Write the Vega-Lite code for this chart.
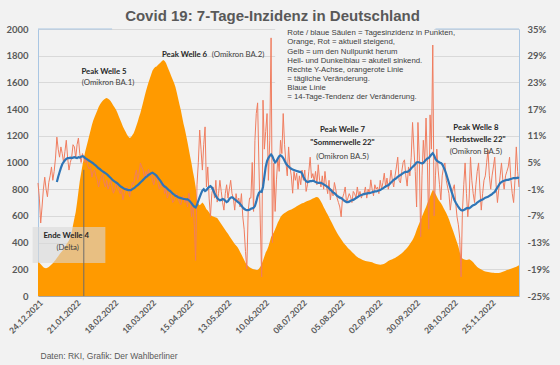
{
"$schema":"https://vega.github.io/schema/vega-lite/v6.json",
"autosize":"none",
"width":481,"height":267,
"padding":{"left":38,"top":29,"right":41,"bottom":69},
"background":"#f2f2f2",
"config":{"view":{"stroke":null}},
"title":{"text":"Covid 19: 7-Tage-Inzidenz in Deutschland","font":"Liberation Sans","fontSize":15,"fontWeight":"bold","color":"#595959","anchor":"middle","frame":"group","offset":0,"dx":-6},
"datasets":{
"main":[
{"d":"2021-12-24","i":260,"r":0.4},{"d":"2021-12-25","i":250,"r":-3},{"d":"2021-12-26","i":238,"r":-8.6},{"d":"2021-12-27","i":226,"r":-5},{"d":"2021-12-28","i":216,"r":-1},{"d":"2021-12-29","i":210,"r":1.7},{"d":"2021-12-30","i":208,"r":-1},{"d":"2021-12-31","i":212,"r":-2.7},
{"d":"2022-01-01","i":218,"r":0.5},{"d":"2022-01-02","i":226,"r":2},{"d":"2022-01-03","i":236,"r":4},{"d":"2022-01-04","i":246,"r":1},{"d":"2022-01-05","i":258,"r":3},{"d":"2022-01-06","i":270,"r":6},{"d":"2022-01-07","i":284,"r":10.7,"b":0.6},{"d":"2022-01-08","i":298,"r":8,"b":1.8},{"d":"2022-01-09","i":312,"r":6.2,"b":2.8},{"d":"2022-01-10","i":326,"r":8.5,"b":3.8},{"d":"2022-01-11","i":338,"r":7,"b":4.6},{"d":"2022-01-12","i":350,"r":5,"b":5.1},{"d":"2022-01-13","i":365,"r":7.5,"b":5.5},{"d":"2022-01-14","i":385,"r":10,"b":5.8},{"d":"2022-01-15","i":400,"r":6,"b":6.0},{"d":"2022-01-16","i":415,"r":3.3,"b":6.0},{"d":"2022-01-17","i":440,"r":5,"b":6.1},{"d":"2022-01-18","i":480,"r":6.2,"b":6.0},{"d":"2022-01-19","i":530,"r":9,"b":6.1},{"d":"2022-01-20","i":580,"r":8.5,"b":6.2},{"d":"2022-01-21","i":630,"r":6,"b":6.1},{"d":"2022-01-22","i":700,"r":9,"b":6.0},{"d":"2022-01-23","i":780,"r":10.5,"b":6.2},{"d":"2022-01-24","i":860,"r":7,"b":6.1},{"d":"2022-01-25","i":920,"r":5,"b":6.3},{"d":"2022-01-26","i":980,"r":7,"b":6.4},{"d":"2022-01-27","i":1030,"r":6,"b":6.3},{"d":"2022-01-28","i":1080,"r":5,"b":6.0},{"d":"2022-01-29","i":1120,"r":6,"b":5.8},{"d":"2022-01-30","i":1160,"r":4.2,"b":5.6},{"d":"2022-01-31","i":1200,"r":3.5,"b":5.4},
{"d":"2022-02-01","i":1240,"r":4,"b":5.2},{"d":"2022-02-02","i":1280,"r":1.7,"b":5.0},{"d":"2022-02-03","i":1315,"r":3,"b":4.8},{"d":"2022-02-04","i":1340,"r":3.3,"b":4.5},{"d":"2022-02-05","i":1365,"r":2,"b":4.3},{"d":"2022-02-06","i":1390,"r":1,"b":4.0},{"d":"2022-02-07","i":1415,"r":-0.5,"b":3.7},{"d":"2022-02-08","i":1435,"r":1,"b":3.5},{"d":"2022-02-09","i":1450,"r":1.7,"b":3.2},{"d":"2022-02-10","i":1462,"r":2.5,"b":3.0},{"d":"2022-02-11","i":1472,"r":0.5,"b":2.8},{"d":"2022-02-12","i":1480,"r":-0.5,"b":2.6},{"d":"2022-02-13","i":1483,"r":1,"b":2.4},{"d":"2022-02-14","i":1478,"r":-1,"b":2.1},{"d":"2022-02-15","i":1470,"r":0,"b":1.8},{"d":"2022-02-16","i":1458,"r":1,"b":1.5},{"d":"2022-02-17","i":1442,"r":-0.5,"b":1.2},{"d":"2022-02-18","i":1425,"r":-1.9,"b":0.9},{"d":"2022-02-19","i":1410,"r":-1,"b":0.7},{"d":"2022-02-20","i":1393,"r":0.5,"b":0.5},{"d":"2022-02-21","i":1370,"r":-0.5,"b":0.3},{"d":"2022-02-22","i":1345,"r":-1.2,"b":0.0},{"d":"2022-02-23","i":1320,"r":-2,"b":-0.3},{"d":"2022-02-24","i":1295,"r":-1,"b":-0.5},{"d":"2022-02-25","i":1270,"r":-3.4,"b":-0.7},{"d":"2022-02-26","i":1250,"r":-2,"b":-0.9},{"d":"2022-02-27","i":1230,"r":-1,"b":-1.0},{"d":"2022-02-28","i":1210,"r":-0.5,"b":-1.1},
{"d":"2022-03-01","i":1195,"r":-1.5,"b":-1.2},{"d":"2022-03-02","i":1183,"r":-2.7,"b":-1.2},{"d":"2022-03-03","i":1190,"r":-1,"b":-1.2},{"d":"2022-03-04","i":1205,"r":0.5,"b":-1.0},{"d":"2022-03-05","i":1220,"r":0,"b":-0.8},{"d":"2022-03-06","i":1245,"r":2,"b":-0.6},{"d":"2022-03-07","i":1275,"r":3.3,"b":-0.3},{"d":"2022-03-08","i":1305,"r":1,"b":-0.1},{"d":"2022-03-09","i":1340,"r":2.5,"b":0.2},{"d":"2022-03-10","i":1370,"r":4.9,"b":0.5},{"d":"2022-03-11","i":1410,"r":4,"b":0.8},{"d":"2022-03-12","i":1450,"r":3.3,"b":1.1},{"d":"2022-03-13","i":1490,"r":1.5,"b":1.4},{"d":"2022-03-14","i":1530,"r":3,"b":1.7},{"d":"2022-03-15","i":1566,"r":1.7,"b":1.9},{"d":"2022-03-16","i":1600,"r":3.5,"b":2.2},{"d":"2022-03-17","i":1630,"r":2,"b":2.4},{"d":"2022-03-18","i":1660,"r":2.6,"b":2.6},{"d":"2022-03-19","i":1690,"r":1,"b":2.7},{"d":"2022-03-20","i":1705,"r":0,"b":2.5},{"d":"2022-03-21","i":1715,"r":2,"b":2.3},{"d":"2022-03-22","i":1720,"r":1.7,"b":2.0},{"d":"2022-03-23","i":1730,"r":0.5,"b":1.6},{"d":"2022-03-24","i":1740,"r":-1,"b":1.2},{"d":"2022-03-25","i":1750,"r":0,"b":0.8},{"d":"2022-03-26","i":1760,"r":-0.5,"b":0.3},{"d":"2022-03-27","i":1768,"r":0.5,"b":-0.1},{"d":"2022-03-28","i":1760,"r":-2,"b":-0.4},{"d":"2022-03-29","i":1745,"r":-1,"b":-0.6},{"d":"2022-03-30","i":1720,"r":-3,"b":-0.9},{"d":"2022-03-31","i":1695,"r":-2,"b":-1.2},
{"d":"2022-04-01","i":1670,"r":-1,"b":-1.4},{"d":"2022-04-02","i":1645,"r":-2.5,"b":-1.7},{"d":"2022-04-03","i":1620,"r":-4,"b":-2.0},{"d":"2022-04-04","i":1595,"r":-3.5,"b":-2.2},{"d":"2022-04-05","i":1566,"r":-2.5,"b":-2.5},{"d":"2022-04-06","i":1525,"r":-2,"b":-2.6},{"d":"2022-04-07","i":1480,"r":-3,"b":-2.8},{"d":"2022-04-08","i":1435,"r":-4,"b":-2.9},{"d":"2022-04-09","i":1393,"r":-4.5,"b":-3.0},{"d":"2022-04-10","i":1340,"r":-3,"b":-3.1},{"d":"2022-04-11","i":1290,"r":-2.5,"b":-3.2},{"d":"2022-04-12","i":1250,"r":-4,"b":-3.2},{"d":"2022-04-13","i":1200,"r":-3,"b":-3.3},{"d":"2022-04-14","i":1150,"r":-5,"b":-3.3},{"d":"2022-04-15","i":1095,"r":-1.9,"b":-3.5},{"d":"2022-04-16","i":1041,"r":-3.5,"b":-3.8},{"d":"2022-04-17","i":990,"r":-7.2,"b":-4.2},{"d":"2022-04-18","i":930,"r":-4,"b":-4.6},{"d":"2022-04-19","i":880,"r":-9,"b":-4.9},{"d":"2022-04-20","i":816,"r":-17,"b":-5.1},{"d":"2022-04-21","i":720,"r":0,"b":-4.5},{"d":"2022-04-22","i":690,"r":5,"b":-3.6},{"d":"2022-04-23","i":680,"r":12.3,"b":-2.8},{"d":"2022-04-24","i":690,"r":8,"b":-2.0},{"d":"2022-04-25","i":700,"r":3.3,"b":-1.3},{"d":"2022-04-26","i":690,"r":9,"b":-1.0},{"d":"2022-04-27","i":670,"r":13,"b":-1.4},{"d":"2022-04-28","i":650,"r":-0.5,"b":-1.2},{"d":"2022-04-29","i":640,"r":4,"b":-0.8},{"d":"2022-04-30","i":625,"r":-3,"b":-0.5},
{"d":"2022-05-01","i":610,"r":-7.2,"b":-0.3},{"d":"2022-05-02","i":600,"r":-2,"b":-0.6},{"d":"2022-05-03","i":595,"r":-0.5,"b":-1.2},{"d":"2022-05-04","i":592,"r":-3,"b":-1.9},{"d":"2022-05-05","i":588,"r":1,"b":-2.5},{"d":"2022-05-06","i":584,"r":-3.9,"b":-3.0},{"d":"2022-05-07","i":570,"r":-2,"b":-3.3},{"d":"2022-05-08","i":555,"r":1,"b":-3.5},{"d":"2022-05-09","i":540,"r":-1.5,"b":-3.4},{"d":"2022-05-10","i":525,"r":-4,"b":-3.2},{"d":"2022-05-11","i":510,"r":-5.7,"b":-3.3},{"d":"2022-05-12","i":495,"r":-2,"b":-3.6},{"d":"2022-05-13","i":480,"r":0,"b":-3.9},{"d":"2022-05-14","i":466,"r":-3,"b":-3.7},{"d":"2022-05-15","i":450,"r":-1,"b":-3.2},{"d":"2022-05-16","i":435,"r":1,"b":-2.9},{"d":"2022-05-17","i":420,"r":-2,"b":-2.8},{"d":"2022-05-18","i":405,"r":-3,"b":-3.0},{"d":"2022-05-19","i":390,"r":-5.7,"b":-3.3},{"d":"2022-05-20","i":378,"r":-2,"b":-3.5},{"d":"2022-05-21","i":367,"r":-4,"b":-3.8},{"d":"2022-05-22","i":350,"r":-3,"b":-4.0},{"d":"2022-05-23","i":330,"r":-5,"b":-4.3},{"d":"2022-05-24","i":310,"r":-2,"b":-4.7},{"d":"2022-05-25","i":290,"r":-7.2,"b":-5.1},{"d":"2022-05-26","i":270,"r":-10,"b":-5.4},{"d":"2022-05-27","i":250,"r":-15,"b":-5.6},{"d":"2022-05-28","i":235,"r":-19,"b":-5.7},{"d":"2022-05-29","i":225,"r":-6,"b":-5.7},{"d":"2022-05-30","i":215,"r":-3,"b":-5.6},{"d":"2022-05-31","i":210,"r":-3,"b":-5.4},
{"d":"2022-06-01","i":205,"r":5,"b":-5.3},{"d":"2022-06-02","i":200,"r":-6,"b":-5.2},{"d":"2022-06-03","i":198,"r":10,"b":-4.8},{"d":"2022-06-04","i":195,"r":16,"b":-3.8},{"d":"2022-06-05","i":195,"r":18.4,"b":-2.6},{"d":"2022-06-06","i":205,"r":4,"b":-1.8},{"d":"2022-06-07","i":220,"r":-8.6,"b":-1.5},{"d":"2022-06-08","i":240,"r":-20.7,"b":-1.6},{"d":"2022-06-09","i":265,"r":19,"b":-0.5},{"d":"2022-06-10","i":295,"r":8,"b":1.8},{"d":"2022-06-11","i":325,"r":12,"b":4.0},{"d":"2022-06-12","i":345,"r":16,"b":5.3},{"d":"2022-06-13","i":370,"r":1,"b":6.0},{"d":"2022-06-14","i":405,"r":10,"b":6.5},{"d":"2022-06-15","i":442,"r":33,"b":6.8},{"d":"2022-06-16","i":460,"r":-13,"b":6.4},{"d":"2022-06-17","i":475,"r":4.9,"b":5.6},{"d":"2022-06-18","i":500,"r":-6,"b":5.0},{"d":"2022-06-19","i":525,"r":1.1,"b":5.3},{"d":"2022-06-20","i":550,"r":6,"b":5.9},{"d":"2022-06-21","i":570,"r":3,"b":6.4},{"d":"2022-06-22","i":592,"r":10,"b":6.6},{"d":"2022-06-23","i":605,"r":7,"b":6.4},{"d":"2022-06-24","i":615,"r":16,"b":6.0},{"d":"2022-06-25","i":622,"r":9,"b":5.4},{"d":"2022-06-26","i":628,"r":5,"b":4.8},{"d":"2022-06-27","i":634,"r":2,"b":4.4},{"d":"2022-06-28","i":640,"r":8.5,"b":4.1},{"d":"2022-06-29","i":644,"r":4,"b":3.8},{"d":"2022-06-30","i":648,"r":2,"b":3.6},
{"d":"2022-07-01","i":654,"r":-1.9,"b":3.4},{"d":"2022-07-02","i":660,"r":3,"b":3.3},{"d":"2022-07-03","i":665,"r":1,"b":3.2},{"d":"2022-07-04","i":672,"r":2.6,"b":3.1},{"d":"2022-07-05","i":678,"r":-1,"b":3.0},{"d":"2022-07-06","i":684,"r":2,"b":2.9},{"d":"2022-07-07","i":690,"r":0,"b":2.9},{"d":"2022-07-08","i":694,"r":3.3,"b":2.5},{"d":"2022-07-09","i":697,"r":1,"b":1.8},{"d":"2022-07-10","i":702,"r":3.3,"b":1.2},{"d":"2022-07-11","i":707,"r":-1.5,"b":0.8},{"d":"2022-07-12","i":712,"r":0,"b":0.6},{"d":"2022-07-13","i":716,"r":3,"b":0.7},{"d":"2022-07-14","i":720,"r":6.2,"b":0.8},{"d":"2022-07-15","i":725,"r":1.5,"b":0.8},{"d":"2022-07-16","i":730,"r":2.5,"b":0.9},{"d":"2022-07-17","i":735,"r":0.8,"b":0.8},{"d":"2022-07-18","i":740,"r":3,"b":0.6},{"d":"2022-07-19","i":742,"r":0,"b":0.5},{"d":"2022-07-20","i":738,"r":4.5,"b":0.4},{"d":"2022-07-21","i":725,"r":1,"b":0.4},{"d":"2022-07-22","i":708,"r":-0.5,"b":0.4},{"d":"2022-07-23","i":690,"r":2,"b":0.3},{"d":"2022-07-24","i":667,"r":-1,"b":0.1},{"d":"2022-07-25","i":648,"r":3,"b":-0.1},{"d":"2022-07-26","i":628,"r":0,"b":-0.3},{"d":"2022-07-27","i":610,"r":-2,"b":-0.5},{"d":"2022-07-28","i":590,"r":1,"b":-0.8},{"d":"2022-07-29","i":569,"r":-3.4,"b":-1.1},{"d":"2022-07-30","i":550,"r":-1,"b":-1.4},{"d":"2022-07-31","i":530,"r":-2.5,"b":-1.7},
{"d":"2022-08-01","i":510,"r":0.5,"b":-1.9},{"d":"2022-08-02","i":490,"r":-1,"b":-2.2},{"d":"2022-08-03","i":472,"r":-3,"b":-2.5},{"d":"2022-08-04","i":455,"r":-4,"b":-2.7},{"d":"2022-08-05","i":440,"r":-5,"b":-2.9},{"d":"2022-08-06","i":425,"r":-7.2,"b":-3.0},{"d":"2022-08-07","i":410,"r":-3,"b":-3.2},{"d":"2022-08-08","i":395,"r":-2,"b":-3.5},{"d":"2022-08-09","i":383,"r":-0.5,"b":-3.7},{"d":"2022-08-10","i":372,"r":-4,"b":-3.9},{"d":"2022-08-11","i":360,"r":-3,"b":-3.9},{"d":"2022-08-12","i":350,"r":-2,"b":-3.8},{"d":"2022-08-13","i":340,"r":-2.7,"b":-3.6},{"d":"2022-08-14","i":330,"r":-4,"b":-3.5},{"d":"2022-08-15","i":320,"r":-1.5,"b":-3.4},{"d":"2022-08-16","i":310,"r":-2,"b":-3.2},{"d":"2022-08-17","i":300,"r":-3,"b":-3.0},{"d":"2022-08-18","i":292,"r":-0.5,"b":-2.8},{"d":"2022-08-19","i":285,"r":-2.5,"b":-2.6},{"d":"2022-08-20","i":280,"r":-1.5,"b":-2.4},{"d":"2022-08-21","i":275,"r":-3,"b":-2.3},{"d":"2022-08-22","i":270,"r":-2,"b":-2.2},{"d":"2022-08-23","i":265,"r":-2,"b":-2.1},{"d":"2022-08-24","i":262,"r":-0.5,"b":-2.0},{"d":"2022-08-25","i":260,"r":-3,"b":-2.0},{"d":"2022-08-26","i":258,"r":-1,"b":-1.9},{"d":"2022-08-27","i":256,"r":-2,"b":-1.9},{"d":"2022-08-28","i":255,"r":1.1,"b":-1.8},{"d":"2022-08-29","i":252,"r":-1,"b":-1.7},{"d":"2022-08-30","i":248,"r":-2.5,"b":-1.6},{"d":"2022-08-31","i":244,"r":0,"b":-1.5},
{"d":"2022-09-01","i":240,"r":-1,"b":-1.5},{"d":"2022-09-02","i":238,"r":-0.5,"b":-1.4},{"d":"2022-09-03","i":236,"r":-2,"b":-1.3},{"d":"2022-09-04","i":235,"r":1,"b":-1.2},{"d":"2022-09-05","i":236,"r":-1,"b":-1.0},{"d":"2022-09-06","i":238,"r":0.5,"b":-0.8},{"d":"2022-09-07","i":242,"r":2.6,"b":-0.6},{"d":"2022-09-08","i":248,"r":-0.5,"b":-0.4},{"d":"2022-09-09","i":255,"r":1.5,"b":-0.2},{"d":"2022-09-10","i":262,"r":-1,"b":-0.1},{"d":"2022-09-11","i":268,"r":0.5,"b":0.2},{"d":"2022-09-12","i":272,"r":3.3,"b":0.5},{"d":"2022-09-13","i":275,"r":1,"b":0.8},{"d":"2022-09-14","i":280,"r":-0.5,"b":1.1},{"d":"2022-09-15","i":285,"r":2,"b":1.3},{"d":"2022-09-16","i":292,"r":4,"b":1.5},{"d":"2022-09-17","i":298,"r":6.2,"b":1.8},{"d":"2022-09-18","i":305,"r":1,"b":2.0},{"d":"2022-09-19","i":312,"r":0.4,"b":2.2},{"d":"2022-09-20","i":320,"r":3,"b":2.4},{"d":"2022-09-21","i":330,"r":5,"b":2.6},{"d":"2022-09-22","i":340,"r":5.6,"b":2.8},{"d":"2022-09-23","i":350,"r":2,"b":2.9},{"d":"2022-09-24","i":362,"r":-0.3,"b":2.9},{"d":"2022-09-25","i":375,"r":4,"b":3.0},{"d":"2022-09-26","i":390,"r":2,"b":3.3},{"d":"2022-09-27","i":405,"r":6.2,"b":3.7},{"d":"2022-09-28","i":420,"r":14,"b":4.0},{"d":"2022-09-29","i":440,"r":8,"b":4.3},{"d":"2022-09-30","i":465,"r":3,"b":4.6},
{"d":"2022-10-01","i":494,"r":-5,"b":5.0},{"d":"2022-10-02","i":520,"r":14,"b":5.1},{"d":"2022-10-03","i":545,"r":6,"b":5.0},{"d":"2022-10-04","i":569,"r":-11.7,"b":4.9},{"d":"2022-10-05","i":595,"r":2,"b":4.8},{"d":"2022-10-06","i":620,"r":10,"b":4.9},{"d":"2022-10-07","i":645,"r":4.9,"b":5.3},{"d":"2022-10-08","i":667,"r":15,"b":5.6},{"d":"2022-10-09","i":695,"r":5,"b":5.9},{"d":"2022-10-10","i":720,"r":-10,"b":6.0},{"d":"2022-10-11","i":745,"r":15.7,"b":6.4},{"d":"2022-10-12","i":771,"r":8,"b":6.8},{"d":"2022-10-13","i":794,"r":31.4,"b":7.1},{"d":"2022-10-14","i":785,"r":-7,"b":6.6},{"d":"2022-10-15","i":765,"r":2,"b":5.8},{"d":"2022-10-16","i":745,"r":8,"b":5.4},{"d":"2022-10-17","i":725,"r":3.3,"b":5.2},{"d":"2022-10-18","i":710,"r":0,"b":5.0},{"d":"2022-10-19","i":697,"r":-3.4,"b":4.9},{"d":"2022-10-20","i":680,"r":2,"b":4.6},{"d":"2022-10-21","i":660,"r":4,"b":4.0},{"d":"2022-10-22","i":640,"r":4.9,"b":3.3},{"d":"2022-10-23","i":622,"r":1,"b":2.4},{"d":"2022-10-24","i":600,"r":-0.5,"b":1.4},{"d":"2022-10-25","i":575,"r":-2,"b":0.4},{"d":"2022-10-26","i":545,"r":-5.7,"b":-0.6},{"d":"2022-10-27","i":517,"r":-3,"b":-1.6},{"d":"2022-10-28","i":490,"r":-1,"b":-2.5},{"d":"2022-10-29","i":460,"r":0,"b":-3.4},{"d":"2022-10-30","i":430,"r":-4,"b":-4.0},{"d":"2022-10-31","i":400,"r":-7.2,"b":-4.5},
{"d":"2022-11-01","i":370,"r":-9,"b":-5.0},{"d":"2022-11-02","i":330,"r":-12,"b":-5.4},{"d":"2022-11-03","i":292,"r":-20.7,"b":-5.7},{"d":"2022-11-04","i":280,"r":-6,"b":-5.8},{"d":"2022-11-05","i":275,"r":0,"b":-5.7},{"d":"2022-11-06","i":272,"r":4.9,"b":-5.5},{"d":"2022-11-07","i":270,"r":-2,"b":-5.3},{"d":"2022-11-08","i":272,"r":-7.2,"b":-5.2},{"d":"2022-11-09","i":275,"r":-3,"b":-5.3},{"d":"2022-11-10","i":270,"r":6.2,"b":-5.1},{"d":"2022-11-11","i":262,"r":1,"b":-4.8},{"d":"2022-11-12","i":252,"r":-2,"b":-4.6},{"d":"2022-11-13","i":240,"r":-4,"b":-4.5},{"d":"2022-11-14","i":228,"r":0,"b":-4.3},{"d":"2022-11-15","i":218,"r":3,"b":-4.0},{"d":"2022-11-16","i":210,"r":4.9,"b":-3.8},{"d":"2022-11-17","i":204,"r":-1,"b":-3.6},{"d":"2022-11-18","i":198,"r":-5.7,"b":-3.4},{"d":"2022-11-19","i":193,"r":-2,"b":-3.3},{"d":"2022-11-20","i":188,"r":1,"b":-3.1},{"d":"2022-11-21","i":184,"r":2,"b":-2.9},{"d":"2022-11-22","i":181,"r":5,"b":-2.8},{"d":"2022-11-23","i":180,"r":7.8,"b":-2.7},{"d":"2022-11-24","i":178,"r":2,"b":-2.5},{"d":"2022-11-25","i":176,"r":-1,"b":-2.3},{"d":"2022-11-26","i":175,"r":2,"b":-2.1},{"d":"2022-11-27","i":174,"r":4,"b":-1.8},{"d":"2022-11-28","i":173,"r":6.2,"b":-1.6},{"d":"2022-11-29","i":172,"r":0,"b":-1.1},{"d":"2022-11-30","i":172,"r":-4,"b":-0.6},
{"d":"2022-12-01","i":173,"r":-1,"b":-0.1},{"d":"2022-12-02","i":175,"r":2,"b":0.4},{"d":"2022-12-03","i":178,"r":4.9,"b":0.6},{"d":"2022-12-04","i":182,"r":1,"b":0.8},{"d":"2022-12-05","i":186,"r":-1,"b":0.9},{"d":"2022-12-06","i":190,"r":2,"b":1.0},{"d":"2022-12-07","i":194,"r":3,"b":1.1},{"d":"2022-12-08","i":197,"r":4,"b":1.1},{"d":"2022-12-09","i":200,"r":6.2,"b":1.2},{"d":"2022-12-10","i":204,"r":1,"b":1.3},{"d":"2022-12-11","i":208,"r":-2,"b":1.4},{"d":"2022-12-12","i":212,"r":-4,"b":1.5},{"d":"2022-12-13","i":216,"r":1,"b":1.5},{"d":"2022-12-14","i":220,"r":8.5,"b":1.5},{"d":"2022-12-15","i":225,"r":3,"b":1.6},{"d":"2022-12-16","i":230,"r":-0.5,"b":1.5}
],
"notes":[
{"d":"2022-02-11","v":1678,"t":"Peak Welle 5","k":"bc"},
{"d":"2022-02-14","v":1595,"t":"(Omikron BA.1)","k":"nc"},
{"d":"2022-03-26","v":1805,"t":"Peak Welle 6","k":"bl"},
{"d":"2022-05-02","v":1805,"t":"(Omikron BA.2)","k":"nl"},
{"d":"2022-08-07","v":1243,"t":"Peak Welle 7","k":"bc"},
{"d":"2022-08-07","v":1146,"t":"\"Sommerwelle 22\"","k":"bc"},
{"d":"2022-08-07","v":1041,"t":"(Omikron BA.5)","k":"nc"},
{"d":"2022-11-14","v":1258,"t":"Peak Welle 8","k":"bc"},
{"d":"2022-11-14","v":1168,"t":"\"Herbstwelle 22\"","k":"bc"},
{"d":"2022-11-14","v":1079,"t":"(Omikron BA.5)","k":"nc"},
{"d":"2021-12-28","v":449,"t":"Ende Welle 4","k":"bl"},
{"d":"2022-01-15","v":360,"t":"(Delta)","k":"nc"},
{"d":"2022-06-27","v":1970,"t":"Rote / blaue Säulen = Tagesinzidenz in Punkten,","k":"tb"},
{"d":"2022-06-27","v":1902,"t":"Orange, Rot = aktuell steigend,","k":"tb"},
{"d":"2022-06-27","v":1827,"t":"Gelb = um den Nullpunkt herum","k":"tb"},
{"d":"2022-06-27","v":1760,"t":"Hell- und Dunkelblau = akutell sinkend.","k":"tb"},
{"d":"2022-06-27","v":1692,"t":"Rechte Y-Achse, orangerote Linie","k":"tb"},
{"d":"2022-06-27","v":1625,"t":"= tägliche Veränderung.","k":"tb"},
{"d":"2022-06-27","v":1558,"t":"\u00a0Blaue Linie","k":"tb"},
{"d":"2022-06-27","v":1490,"t":"= 14-Tage-Tendenz der Veränderung.","k":"tb"}
],
"shapes":[
{"d":"2022-06-18","d2":"2022-10-14","v":1453,"v2":2000,"k":"bg"},
{"d":"2021-12-20","d2":"2022-02-12","v":247,"v2":517,"k":"box"},
{"d":"2021-12-24","d2":"2022-02-17","v":2000,"k":"top"},
{"d":"2022-10-15","d2":"2022-12-16","v":2000,"k":"top"},
{"d":"2022-01-27","v":0,"v2":945,"k":"vline"}
]
},
"layer":[
{"layer":[
{"data":{"name":"main"},
 "mark":{"type":"area","color":"#ff9a00"},
 "encoding":{
  "x":{"field":"d","type":"temporal","scale":{"type":"utc","domain":[{"year":2021,"month":12,"date":24,"utc":true},{"year":2022,"month":12,"date":16,"utc":true}],"nice":false},
   "axis":{"values":[{"year":2021,"month":12,"date":24,"utc":true},{"year":2022,"month":1,"date":21,"utc":true},{"year":2022,"month":2,"date":18,"utc":true},{"year":2022,"month":3,"date":18,"utc":true},{"year":2022,"month":4,"date":15,"utc":true},{"year":2022,"month":5,"date":13,"utc":true},{"year":2022,"month":6,"date":10,"utc":true},{"year":2022,"month":7,"date":8,"utc":true},{"year":2022,"month":8,"date":5,"utc":true},{"year":2022,"month":9,"date":2,"utc":true},{"year":2022,"month":9,"date":30,"utc":true},{"year":2022,"month":10,"date":28,"utc":true},{"year":2022,"month":11,"date":25,"utc":true}],"tickCount":20,
    "labelExpr":"utcFormat(datum.value, '%d.%m.%Y')","labelAngle":-45,"labelAlign":"right","labelBaseline":"top","labelPadding":2,"labelFont":"Lato","labelFontSize":8.5,"labelFontWeight":"bold","labelColor":"#595959","labelOverlap":false,"labelFlush":false,"ticks":false,"grid":false,"domainColor":"#a6a6a6","domainWidth":1,
    "title":"Daten: RKI, Grafik: Der Wahlberliner","titleAnchor":"start","titleAlign":"left","titleX":2,"titleY":59,"titleBaseline":"middle","titleFont":"Liberation Sans","titleFontWeight":"normal","titleFontSize":8.5,"titleColor":"#595959"}},
  "y":{"field":"i","type":"quantitative","scale":{"domain":[0,2000],"nice":false},
   "axis":{"values":[0,200,400,600,800,1000,1200,1400,1600,1800,2000],"tickCount":20,"format":"d","title":null,"ticks":false,"labelPadding":10,"labelOverlap":false,"labelFont":"Lato","labelFontSize":9.5,"labelFontWeight":"bold","labelColor":"#595959","grid":true,"gridColor":"#d9d9d9","domainColor":"#a9c6e3","domainWidth":1}}
 }},
{"data":{"name":"shapes"},"transform":[{"filter":"datum.k == 'bg'"}],
 "mark":{"type":"rect","color":"#f2f2f2"},
 "encoding":{"x":{"field":"d","type":"temporal"},"x2":{"field":"d2"},"y":{"field":"v","type":"quantitative","scale":{"domain":[0,2000],"nice":false}},"y2":{"field":"v2"}}},
{"data":{"name":"shapes"},"transform":[{"filter":"datum.k == 'top'"}],
 "mark":{"type":"rule","color":"#a9c6e3","strokeWidth":1},
 "encoding":{"x":{"field":"d","type":"temporal"},"x2":{"field":"d2"},"y":{"field":"v","type":"quantitative","scale":{"domain":[0,2000],"nice":false}}}}
]},
{"layer":[
{"mark":{"type":"rule","color":"#7f7f7f","strokeWidth":1.5},
 "encoding":{"y":{"datum":0,"type":"quantitative","scale":{"domain":[-25,35],"nice":false},
   "axis":{"orient":"right","values":[-25,-19,-13,-7,-1,5,11,17,23,29,35],"tickCount":20,"labelExpr":"datum.value + '%'","title":null,"ticks":false,"labelPadding":8,"labelOverlap":false,"labelFont":"Lato","labelFontSize":9.5,"labelFontWeight":"bold","labelColor":"#595959","grid":false,"domainColor":"#a9c6e3","domainWidth":1}}}},
{"data":{"name":"main"},
 "mark":{"type":"line","color":"#f07d5f","strokeWidth":1},
 "encoding":{"x":{"field":"d","type":"temporal"},"y":{"field":"r","type":"quantitative","scale":{"domain":[-25,35],"nice":false}}}},
{"data":{"name":"main"},
 "mark":{"type":"line","color":"#2e75b6","strokeWidth":2.2},
 "encoding":{"x":{"field":"d","type":"temporal"},"y":{"field":"b","type":"quantitative","scale":{"domain":[-25,35],"nice":false}}}}
]},
{"layer":[
{"data":{"name":"shapes"},"transform":[{"filter":"datum.k == 'box'"}],
 "mark":{"type":"rect","color":"#d9d9d9","opacity":0.6},
 "encoding":{"x":{"field":"d","type":"temporal"},"x2":{"field":"d2"},"y":{"field":"v","type":"quantitative","scale":{"domain":[0,2000],"nice":false},"axis":null},"y2":{"field":"v2"}}},
{"data":{"name":"shapes"},"transform":[{"filter":"datum.k == 'vline'"}],
 "mark":{"type":"rule","color":"#6b6b6b","strokeWidth":1},
 "encoding":{"x":{"field":"d","type":"temporal"},"y":{"field":"v","type":"quantitative","scale":{"domain":[0,2000],"nice":false},"axis":null},"y2":{"field":"v2"}}},
{"data":{"name":"notes"},"transform":[{"filter":"datum.k == 'bc'"}],
 "mark":{"type":"text","font":"Lato","fontSize":7.8,"fontWeight":"bold","color":"#262626","align":"center","baseline":"middle"},
 "encoding":{"x":{"field":"d","type":"temporal"},"y":{"field":"v","type":"quantitative","scale":{"domain":[0,2000],"nice":false},"axis":null},"text":{"field":"t"}}},
{"data":{"name":"notes"},"transform":[{"filter":"datum.k == 'bl'"}],
 "mark":{"type":"text","font":"Lato","fontSize":7.8,"fontWeight":"bold","color":"#262626","align":"left","baseline":"middle"},
 "encoding":{"x":{"field":"d","type":"temporal"},"y":{"field":"v","type":"quantitative","scale":{"domain":[0,2000],"nice":false},"axis":null},"text":{"field":"t"}}},
{"data":{"name":"notes"},"transform":[{"filter":"datum.k == 'nc'"}],
 "mark":{"type":"text","font":"Lato","fontSize":7.8,"color":"#404040","align":"center","baseline":"middle"},
 "encoding":{"x":{"field":"d","type":"temporal"},"y":{"field":"v","type":"quantitative","scale":{"domain":[0,2000],"nice":false},"axis":null},"text":{"field":"t"}}},
{"data":{"name":"notes"},"transform":[{"filter":"datum.k == 'nl'"}],
 "mark":{"type":"text","font":"Lato","fontSize":7.8,"color":"#404040","align":"left","baseline":"middle"},
 "encoding":{"x":{"field":"d","type":"temporal"},"y":{"field":"v","type":"quantitative","scale":{"domain":[0,2000],"nice":false},"axis":null},"text":{"field":"t"}}},
{"data":{"name":"notes"},"transform":[{"filter":"datum.k == 'tb'"}],
 "mark":{"type":"text","font":"Liberation Sans","fontSize":7.8,"color":"#404040","align":"left","baseline":"middle"},
 "encoding":{"x":{"field":"d","type":"temporal"},"y":{"field":"v","type":"quantitative","scale":{"domain":[0,2000],"nice":false},"axis":null},"text":{"field":"t"}}}
]}
],
"resolve":{"scale":{"y":"independent"}}
}
